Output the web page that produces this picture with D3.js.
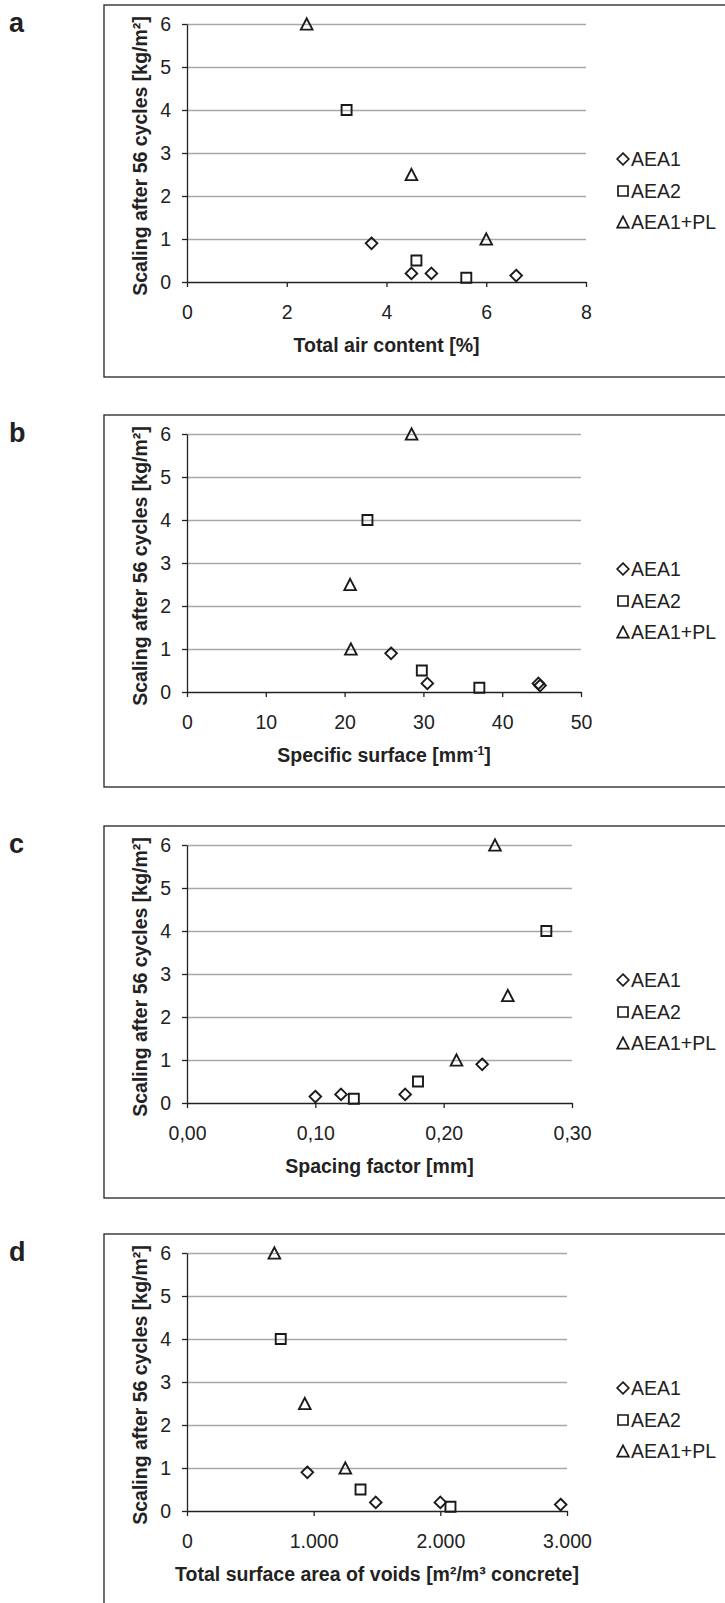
<!DOCTYPE html>
<html>
<head>
<meta charset="utf-8">
<script src="https://cdn.jsdelivr.net/npm/d3@7"></script>
<style>
  html, body { margin: 0; padding: 0; background: #fff; }
  svg { display: block; }
  text { font-family: "Liberation Sans", Arial, sans-serif; fill: #222; }
</style>
</head>
<body>
<script>
// ---------- DATA ----------
const seriesNames = ["AEA1", "AEA2", "AEA1+PL"];
const panelLetters = ["a", "b", "c", "d"];
const yTickValues = [0, 1, 2, 3, 4, 5, 6];
const yAxisTitle = "Scaling after 56 cycles [kg/m²]";

// scaling after 56 cycles (same specimens in every panel)
const scalingAEA1 = [0.9, 0.2, 0.2, 0.15];
const scalingAEA2 = [4.0, 0.5, 0.1];
const scalingAEA1PL = [6.0, 2.5, 1.0];

// panel a: total air content [%]
const airAEA1 = [3.7, 4.5, 4.9, 6.6];
const airAEA2 = [3.2, 4.6, 5.6];
const airAEA1PL = [2.4, 4.5, 6.0];
const airTicks = [0, 2, 4, 6, 8];

// panel b: specific surface [mm-1]
const surfAEA1 = [25.9, 30.5, 44.6, 44.8];
const surfAEA2 = [22.9, 29.8, 37.1];
const surfAEA1PL = [28.5, 20.7, 20.8];
const surfTicks = [0, 10, 20, 30, 40, 50];

// panel c: spacing factor [mm]
const spacAEA1 = [0.23, 0.17, 0.12, 0.10];
const spacAEA2 = [0.28, 0.18, 0.13];
const spacAEA1PL = [0.24, 0.25, 0.21];
const spacTicks = [0, 0.1, 0.2, 0.3];
const spacTickLabels = ["0,00", "0,10", "0,20", "0,30"];

// panel d: total surface area of voids [m2/m3 concrete]
const voidAEA1 = [950, 1490, 2000, 2950];
const voidAEA2 = [740, 1370, 2080];
const voidAEA1PL = [690, 930, 1250];
const voidTicks = [0, 1000, 2000, 3000];
const voidTickLabels = ["0", "1.000", "2.000", "3.000"];

// ---------- LAYOUT ----------
const W = 725, H = 1603;
const panelTops = [5, 415, 826, 1234];
const frameLeft = 104, frameHeight = 372;
const plotLeft = 187;
const plotRights = [586, 581, 572, 567];
const plotTopOff = 19, plotBottomOff = 277;

const panels = [
  { xs: [airAEA1, airAEA2, airAEA1PL], domain: [0, 8], ticks: airTicks,
    fmt: d => String(d), title: [{t: "Total air content [%]"}] },
  { xs: [surfAEA1, surfAEA2, surfAEA1PL], domain: [0, 50], ticks: surfTicks,
    fmt: d => String(d), title: [{t: "Specific surface [mm"}, {t: "-1", sup: true}, {t: "]"}] },
  { xs: [spacAEA1, spacAEA2, spacAEA1PL], domain: [0, 0.3], ticks: spacTicks,
    fmt: (d, i) => spacTickLabels[i], title: [{t: "Spacing factor [mm]"}] },
  { xs: [voidAEA1, voidAEA2, voidAEA1PL], domain: [0, 3000], ticks: voidTicks,
    fmt: (d, i) => voidTickLabels[i], title: [{t: "Total surface area of voids [m²/m³ concrete]"}] }
];
const ysBySeries = [scalingAEA1, scalingAEA2, scalingAEA1PL];

// ---------- MARKERS ----------
const diamondType = { draw(ctx, s) { const r = 5.8; ctx.moveTo(0, -r); ctx.lineTo(r, 0); ctx.lineTo(0, r); ctx.lineTo(-r, 0); ctx.closePath(); } };
const squareType = { draw(ctx, s) { const r = 5; ctx.moveTo(-r, -r); ctx.lineTo(r, -r); ctx.lineTo(r, r); ctx.lineTo(-r, r); ctx.closePath(); } };
const triangleType = { draw(ctx, s) { const w = 5.8, h = 5.6; ctx.moveTo(0, -h); ctx.lineTo(w, h); ctx.lineTo(-w, h); ctx.closePath(); } };
const markerTypes = [diamondType, squareType, triangleType];
const markerPath = t => d3.symbol().type(t)();

const FS = 19.5;
const TFS = 19.5;
const svg = d3.select("body").append("svg").attr("width", W).attr("height", H);

panels.forEach((p, pi) => {
  const top = panelTops[pi];
  const g = svg.append("g");

  // frame
  g.append("rect").attr("x", frameLeft).attr("y", top)
    .attr("width", W + 10 - frameLeft).attr("height", frameHeight)
    .attr("fill", "none").attr("stroke", "#222").attr("stroke-width", 1.3);

  // panel letter
  g.append("text").attr("x", 9).attr("y", top + 27)
    .attr("font-size", 27).attr("font-weight", "bold").attr("fill", "#111")
    .text(panelLetters[pi]);

  const x = d3.scaleLinear().domain(p.domain).range([plotLeft, plotRights[pi]]);
  const y = d3.scaleLinear().domain([0, 6]).range([top + plotBottomOff, top + plotTopOff]);

  // gridlines
  const grid = g.append("g").attr("transform", `translate(${plotLeft},0)`)
    .call(d3.axisLeft(y).tickValues(yTickValues.slice(1)).tickSize(-(plotRights[pi] - plotLeft)).tickFormat(""));
  grid.select(".domain").remove();
  grid.selectAll("line").attr("stroke", "#a8a8a8").attr("stroke-width", 1.4);

  // y axis
  const ya = g.append("g").attr("transform", `translate(${plotLeft},0)`)
    .call(d3.axisLeft(y).tickValues(yTickValues).tickFormat(d3.format("d")).tickSize(5).tickPadding(11).tickSizeOuter(0));
  ya.select(".domain").attr("stroke", "#222").attr("stroke-width", 1.3);
  ya.selectAll("line").attr("stroke", "#222").attr("stroke-width", 1.3);
  ya.selectAll("text").attr("font-size", FS).attr("font-family", "Liberation Sans, Arial, sans-serif").attr("fill", "#222");

  // x axis
  const xa = g.append("g").attr("transform", `translate(0,${top + plotBottomOff})`)
    .call(d3.axisBottom(x).tickValues(p.ticks).tickFormat(p.fmt).tickSize(5).tickPadding(18).tickSizeOuter(0));
  xa.select(".domain").attr("stroke", "#222").attr("stroke-width", 1.3);
  xa.selectAll("line").attr("stroke", "#222").attr("stroke-width", 1.3);
  xa.selectAll("text").attr("font-size", FS).attr("font-family", "Liberation Sans, Arial, sans-serif").attr("fill", "#222");

  // y axis title
  g.append("text")
    .attr("transform", `translate(147,${top + 151}) rotate(-90)`)
    .attr("text-anchor", "middle").attr("font-size", TFS).attr("font-weight", "bold")
    .text(yAxisTitle);

  // x axis title
  const xt = g.append("text").attr("x", (plotLeft + plotRights[pi]) / 2).attr("y", top + 347)
    .attr("text-anchor", "middle").attr("font-size", TFS).attr("font-weight", "bold");
  p.title.forEach(part => {
    const ts = xt.append("tspan").text(part.t);
    if (part.sup) ts.attr("font-size", 12).attr("baseline-shift", "super");
  });

  // points
  p.xs.forEach((xv, si) => {
    const pts = xv.map((v, i) => [v, ysBySeries[si][i]]);
    g.append("g").selectAll("path").data(pts).join("path")
      .attr("d", markerPath(markerTypes[si]))
      .attr("transform", d => `translate(${x(d[0])},${y(d[1])})`)
      .attr("fill", "none").attr("stroke", "#1a1a1a").attr("stroke-width", 1.9);
  });

  // legend
  const legY = [top + 154, top + 186, top + 217];
  seriesNames.forEach((name, si) => {
    g.append("path").attr("d", markerPath(markerTypes[si]))
      .attr("transform", `translate(623,${legY[si]})`)
      .attr("fill", "none").attr("stroke", "#1a1a1a").attr("stroke-width", 1.7);
    g.append("text").attr("x", 631).attr("y", legY[si]).attr("dy", "0.35em")
      .attr("font-size", FS).text(name);
  });
});
</script>
</body>
</html>
